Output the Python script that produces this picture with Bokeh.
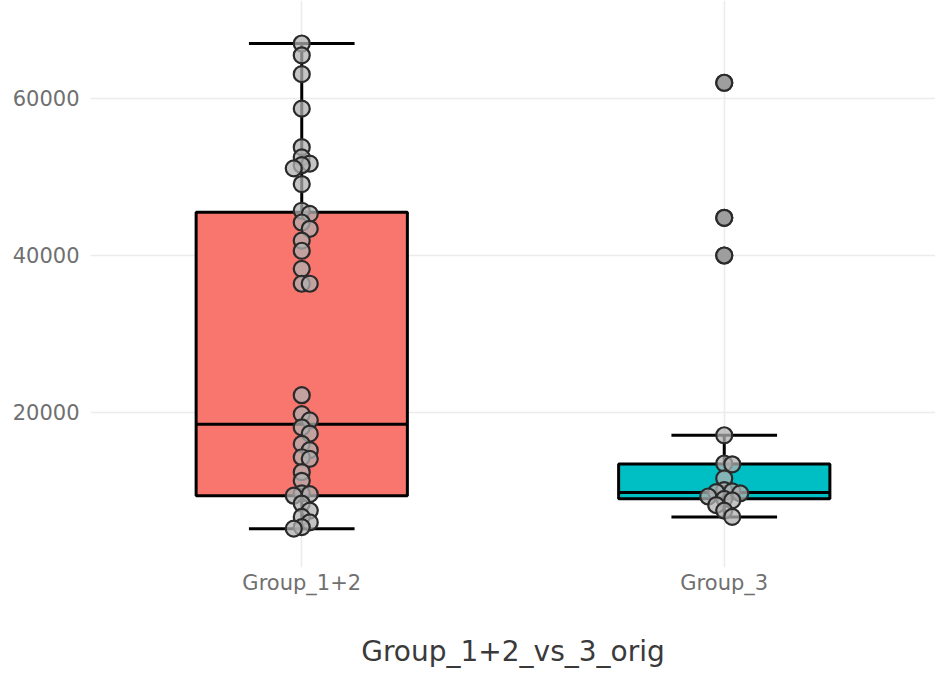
from bokeh.plotting import figure
from bokeh.models import Range1d, FactorRange, FixedTicker, NumeralTickFormatter, ColumnDataSource
from bokeh.embed import file_html
from bokeh.resources import INLINE

# ---------------- data ----------------
categories = ["Group_1+2", "Group_3"]
box_fill = ["#F8766D", "#00BFC4"]
whisker_low = [5200, 6700]
q1 = [9400, 9000]
median = [18500, 9800]
q3 = [45500, 13450]
whisker_high = [67000, 17100]

group_12_values = [67000, 65500, 63100, 58700, 53800, 52500, 51700, 51500, 51100,
                   49100, 45700, 45300, 44200, 43400, 41900, 40600, 38300, 36400, 36400,
                   22200, 19800, 19000, 18100, 17300, 16000, 15200, 14300, 14100,
                   12400, 11300, 9700, 9600, 9400, 8400, 7500, 6700, 6000, 5400, 5200]
group_3_values = [62000, 44800, 40000, 17100, 13500, 13400, 11600, 10100, 9950, 9850,
                  9700, 9300, 9000, 8800, 8200, 7500, 6700]
group_3_outliers = [62000, 44800, 40000]

y_ticks = [20000, 40000, 60000]
x_title = "Group_1+2_vs_3_orig"

# ---------------- layout ----------------
FRAME_W, FRAME_H = 845, 567
Y_MIN, Y_MAX = 255, 72480
BOX_W = 0.5
CAP_W = 0.25
PX_X = FRAME_W / len(categories)
PX_Y = FRAME_H / (Y_MAX - Y_MIN)


def swarm(values, min_dist=7.5, step=8.0):
    placed, offs = [], []
    cands = [0.0]
    for i in range(1, 12):
        cands += [i * step, -i * step]
    for v in values:
        y = v * PX_Y
        chosen = cands[-1]
        for dx in cands:
            if all((dx - px) ** 2 + (y - py) ** 2 >= min_dist ** 2 for px, py in placed):
                chosen = dx
                break
        placed.append((chosen, y))
        offs.append(chosen / PX_X)
    return offs


p = figure(x_range=FactorRange(factors=categories), y_range=Range1d(Y_MIN, Y_MAX),
           frame_width=FRAME_W, frame_height=FRAME_H,
           min_border_left=90, min_border_right=0, min_border_top=0, min_border_bottom=106,
           output_backend="svg", toolbar_location=None,
           background_fill_color="white", border_fill_color="white")
p.outline_line_color = None

# grid
for g in (p.xgrid, p.ygrid):
    g.grid_line_color = "#ececec"
    g.grid_line_width = 1.6

# axes
for ax in (p.xaxis, p.yaxis):
    ax.axis_line_color = None
    ax.major_tick_line_color = None
    ax.minor_tick_line_color = None
    ax.major_label_text_font = "DejaVu Sans"
    ax.major_label_text_color = "#707070"
    ax.major_label_text_font_size = "21px"
p.yaxis.ticker = FixedTicker(ticks=y_ticks)
p.yaxis.formatter = NumeralTickFormatter(format="0")
p.yaxis.major_label_standoff = 5
p.xaxis.major_label_standoff = -3
p.xaxis.axis_label = x_title
p.xaxis.axis_label_text_font = "DejaVu Sans"
p.xaxis.axis_label_text_font_style = "normal"
p.xaxis.axis_label_text_font_size = "28px"
p.xaxis.axis_label_text_color = "#3a3a3a"
p.xaxis.axis_label_standoff = 37

LW = 3
# boxes
box_src = ColumnDataSource(dict(x=categories, q1=q1, q3=q3, fill=box_fill))
p.vbar(x="x", width=BOX_W, bottom="q1", top="q3", fill_color="fill",
       line_color="black", line_width=LW, source=box_src)

# median lines
p.segment(x0=[(c, -BOX_W / 2) for c in categories], y0=median,
          x1=[(c, BOX_W / 2) for c in categories], y1=median,
          line_color="black", line_width=LW)

# whiskers
p.segment(x0=categories, y0=q3, x1=categories, y1=whisker_high, line_color="black", line_width=LW)
p.segment(x0=categories, y0=q1, x1=categories, y1=whisker_low, line_color="black", line_width=LW)
p.segment(x0=[(c, -CAP_W / 2) for c in categories], y0=whisker_high,
          x1=[(c, CAP_W / 2) for c in categories], y1=whisker_high,
          line_color="black", line_width=LW)
p.segment(x0=[(c, -CAP_W / 2) for c in categories], y0=whisker_low,
          x1=[(c, CAP_W / 2) for c in categories], y1=whisker_low,
          line_color="black", line_width=LW)

# outliers (boxplot)
p.scatter(x=[categories[1]] * len(group_3_outliers), y=group_3_outliers, size=16,
          fill_color="#6a6a6a", line_color="#222222", line_width=2.2)

# points
xs, ys = [], []
for cat, vals in ((categories[0], group_12_values), (categories[1], group_3_values)):
    offs = swarm(vals)
    xs += [(cat, o) for o in offs]
    ys += vals
p.scatter(x=xs, y=ys, size=16, fill_color="#b0b0b0", fill_alpha=0.75,
          line_color="#2a2a2a", line_width=2.2)

open("out.html", "w").write(file_html(p, INLINE))
